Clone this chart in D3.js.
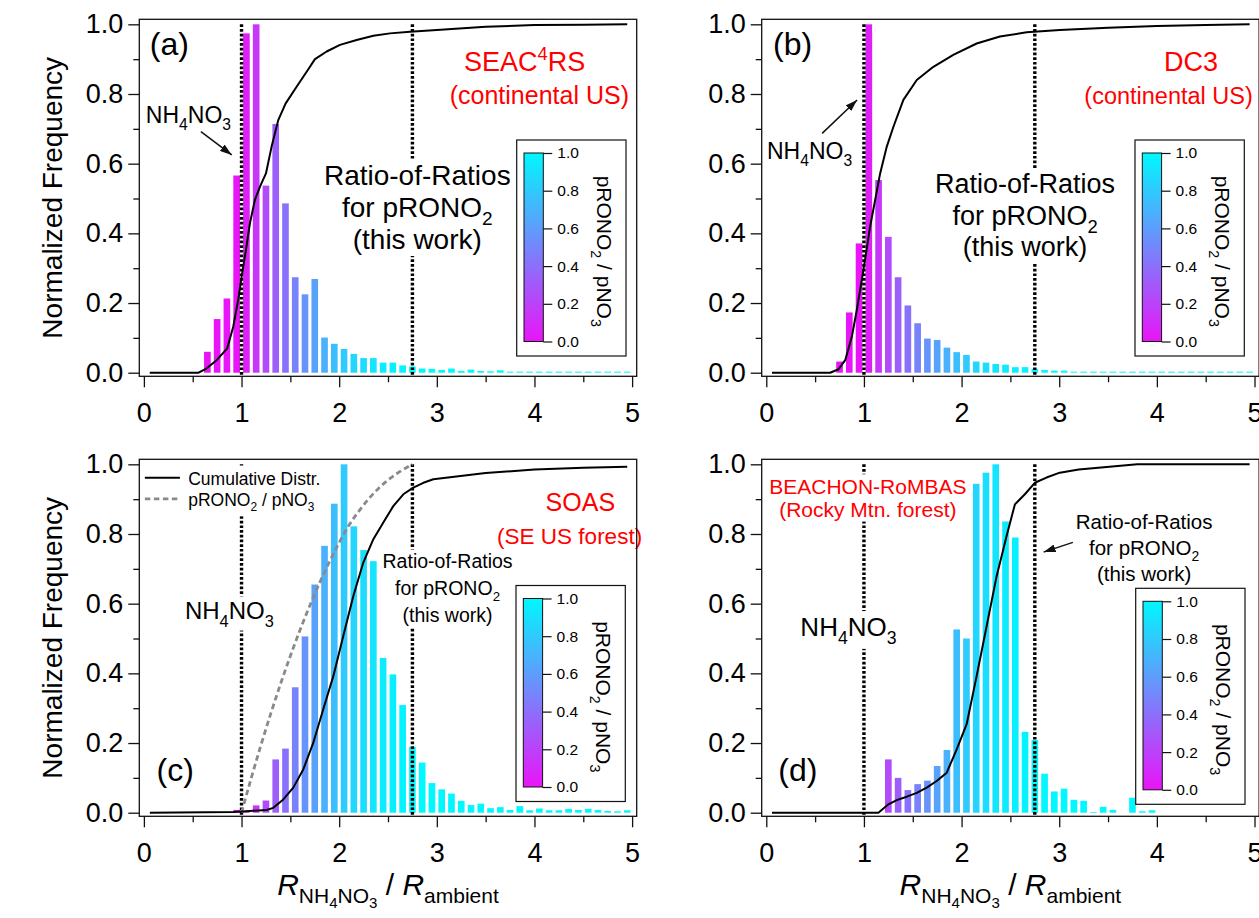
<!DOCTYPE html>
<html>
<head>
<meta charset="utf-8">
<script src="https://cdn.jsdelivr.net/npm/d3@7"></script>
<style>
  html, body { margin: 0; padding: 0; background: #fff; }
  svg { display: block; font-family: "Liberation Sans", Arial, Helvetica, sans-serif; }
</style>
</head>
<body>
<svg id="chart" width="1259" height="918"></svg>
<script>
// ---------------------------------------------------------------------------
// Data
// ---------------------------------------------------------------------------

// Histogram bin centres (bin width 0.1) of R_NH4NO3 / R_ambient
const binCenters = [0.55, 0.65, 0.75, 0.85, 0.95, 1.05, 1.15, 1.25, 1.35, 1.45,
                    1.55, 1.65, 1.75, 1.85, 1.95, 2.05, 2.15, 2.25, 2.35, 2.45,
                    2.55, 2.65, 2.75, 2.85, 2.95, 3.05, 3.15, 3.25, 3.35, 3.45,
                    3.55, 3.65, 3.75, 3.85, 3.95, 4.05, 4.15, 4.25, 4.35, 4.45,
                    4.55, 4.65, 4.75, 4.85, 4.95];

// Normalized frequency per bin for each campaign
const freqSEAC4RS = [0, 0.060, 0.154, 0.213, 0.566, 0.974, 1.000, 0.537, 0.714, 0.486,
                     0.274, 0.225, 0.269, 0.101, 0.083, 0.068, 0.054, 0.042, 0.042, 0.029,
                     0.029, 0.021, 0.018, 0.012, 0.011, 0.008, 0.012, 0.005, 0.009, 0.005,
                     0.004, 0.007, 0.003, 0.003, 0.003, 0.003, 0.003, 0.003, 0.003, 0.003,
                     0.003, 0.003, 0.003, 0.003, 0.003];
const freqDC3     = [0, 0, 0.032, 0.173, 0.371, 1.000, 0.553, 0.390, 0.274, 0.193,
                     0.142, 0.098, 0.094, 0.072, 0.059, 0.051, 0.032, 0.029, 0.025, 0.023,
                     0.016, 0.016, 0.011, 0.008, 0.006, 0.006, 0.003, 0.003, 0.003, 0.003,
                     0.003, 0.003, 0.003, 0.003, 0.003, 0.003, 0.003, 0.003, 0.003, 0.003,
                     0.003, 0.003, 0.003, 0.003, 0.003];
const freqSOAS    = [0, 0, 0, 0, 0.008, 0.004, 0.021, 0.035, 0.153, 0.184,
                     0.360, 0.506, 0.655, 0.766, 0.887, 1.000, 0.822, 0.754, 0.722, 0.444,
                     0.397, 0.309, 0.189, 0.144, 0.085, 0.067, 0.055, 0.034, 0.022, 0.026,
                     0.013, 0.016, 0.008, 0.019, 0.007, 0.012, 0.007, 0.007, 0.011, 0.008,
                     0.011, 0.008, 0.005, 0.004, 0.007];
const freqBEACHON = [0, 0, 0, 0, 0, 0, 0, 0.153, 0.100, 0.065,
                     0.082, 0.092, 0.134, 0.180, 0.526, 0.500, 0.944, 0.976, 1.000, 0.836,
                     0.790, 0.232, 0.209, 0.112, 0.061, 0.069, 0.037, 0.034, 0.002, 0.017,
                     0.008, 0, 0.043, 0.004, 0.007, 0, 0, 0, 0, 0,
                     0, 0, 0, 0, 0];

// Cumulative distributions
const cumXSEAC4RS = [0.06, 0.56, 0.64, 0.745, 0.854, 0.915, 0.966, 1.001, 1.045, 1.086,
                     1.137, 1.189, 1.25, 1.308, 1.376, 1.452, 1.564, 1.667, 1.752, 1.872,
                     2.008, 2.179, 2.35, 2.52, 2.725, 3.0, 3.5, 4.0, 4.5, 4.95];
const cumYSEAC4RS = [0, 0, 0.012, 0.036, 0.070, 0.132, 0.209, 0.276, 0.352, 0.429,
                     0.496, 0.534, 0.572, 0.649, 0.725, 0.773, 0.821, 0.864, 0.900, 0.922,
                     0.941, 0.955, 0.967, 0.974, 0.979, 0.984, 0.993, 0.998, 0.999, 1.0];
const cumXDC3     = [0.058, 0.654, 0.74, 0.808, 0.876, 0.927, 0.978, 1.022, 1.063, 1.115,
                     1.166, 1.234, 1.302, 1.404, 1.541, 1.711, 1.915, 2.154, 2.393, 2.666,
                     3.006, 3.5, 4.0, 4.5, 4.95];
const cumYDC3     = [0, 0, 0.010, 0.036, 0.103, 0.180, 0.266, 0.343, 0.419, 0.496,
                     0.572, 0.649, 0.706, 0.783, 0.840, 0.878, 0.912, 0.945, 0.965, 0.977,
                     0.984, 0.990, 0.995, 0.998, 1.0];
const cumXSOAS    = [0.061, 0.915, 1.086, 1.257, 1.325, 1.428, 1.53, 1.632, 1.735, 1.837,
                     1.94, 2.042, 2.145, 2.247, 2.35, 2.452, 2.554, 2.657, 2.759, 2.862,
                     2.964, 3.5, 4.0, 4.5, 4.95];
const cumYSOAS    = [0, 0.002, 0.005, 0.008, 0.014, 0.038, 0.072, 0.124, 0.201, 0.297,
                     0.392, 0.507, 0.622, 0.718, 0.785, 0.833, 0.880, 0.914, 0.933, 0.947,
                     0.957, 0.975, 0.985, 0.990, 0.993];
const cumXBEACHON = [0.058, 1.148, 1.251, 1.336, 1.438, 1.541, 1.643, 1.745, 1.848, 1.95,
                     2.052, 2.154, 2.257, 2.359, 2.461, 2.546, 2.648, 2.75, 2.87, 3.006,
                     3.2, 3.4, 3.8, 4.95];
const cumYBEACHON = [0, 0, 0.024, 0.036, 0.046, 0.057, 0.072, 0.091, 0.115, 0.182,
                     0.254, 0.392, 0.536, 0.679, 0.794, 0.885, 0.914, 0.947, 0.962, 0.976,
                     0.985, 0.990, 1.0, 1.0];

// pRONO2 / pNO3 fraction versus R_NH4NO3 / R_ambient (also sets bar colours)
const ratioX    = [1.0, 1.1, 1.2, 1.3, 1.4, 1.5, 1.6, 1.7, 1.8, 1.9,
                   2.0, 2.1, 2.2, 2.3, 2.4, 2.5, 2.6, 2.75];
const ratioFrac = [0, 0.100, 0.195, 0.285, 0.370, 0.450, 0.525, 0.595, 0.660, 0.720,
                   0.775, 0.825, 0.865, 0.900, 0.930, 0.955, 0.975, 1.0];

// Reference ratios: pure NH4NO3 and pRONO2 (this work)
const refLines = [1.0, 2.75];

// Tick values
const xTicks = [0, 1, 2, 3, 4, 5];
const xMinorTicks = [0.5, 1.5, 2.5, 3.5, 4.5];
const yTicks = [0, 0.2, 0.4, 0.6, 0.8, 1.0];
const yMinorTicks = [0.1, 0.3, 0.5, 0.7, 0.9];
const cbTicks = [0, 0.2, 0.4, 0.6, 0.8, 1.0];

// ---------------------------------------------------------------------------
// Layout and styling
// ---------------------------------------------------------------------------
const W = 497.4, H = 357;
const xDomain = [-0.047, 5.047];
const yDomain = [-0.0103, 1.0144];
const barWidth = 0.068;
const magenta = '#ea14f8', cyan = '#00f8ff';
const interp = d3.interpolateRgb(magenta, cyan);
const fracScale = d3.scaleLinear().domain(ratioX).range(ratioFrac).clamp(true);
const barColor = v => interp(fracScale(v));
const INK = '#111';
const RED = '#ff0000';

const svg = d3.select('#chart');
const defs = svg.append('defs');

const grad = defs.append('linearGradient').attr('id', 'cbGrad')
  .attr('x1', 0).attr('y1', 1).attr('x2', 0).attr('y2', 0);
d3.range(0, 1.0001, 0.1).forEach(t => {
  grad.append('stop').attr('offset', (t * 100) + '%').attr('stop-color', interp(t));
});

defs.append('marker').attr('id', 'arrowHead')
  .attr('markerUnits', 'userSpaceOnUse')
  .attr('markerWidth', 12).attr('markerHeight', 8)
  .attr('refX', 12).attr('refY', 4).attr('orient', 'auto')
  .append('path').attr('d', 'M0,0 L12,4 L0,8 Z').attr('fill', INK);

// Writes text segments into a <text>; objects with sub/sup become sub/superscripts
function rich(textSel, segs, size) {
  let off = 0;
  segs.forEach(s => {
    const seg = typeof s === 'string' ? { t: s } : s;
    const ts = textSel.append('tspan').text(seg.t);
    let target = 0, fs = seg.size || size;
    if (seg.sub) { target = 0.3 * size; fs = 0.68 * size; }
    if (seg.sup) { target = -0.42 * size; fs = 0.68 * size; }
    ts.attr('font-size', fs);
    if (seg.italic) ts.attr('font-style', 'italic');
    if (target !== off) { ts.attr('dy', target - off); off = target; }
  });
}

// A block of lines; optional white background hides what lies beneath
function textBlock(g, x, y, item) {
  const grp = g.append('g');
  item.lines.forEach((line, i) => {
    const size = item.sizes ? item.sizes[i] : item.size;
    const cx = item.xs ? item.xs[i] : item.x;
    const t = grp.append('text')
      .attr('x', x(cx)).attr('y', y(item.ys[i]))
      .attr('text-anchor', item.anchor || 'middle')
      .attr('font-size', size)
      .attr('fill', item.color || '#000');
    rich(t, line, size);
  });
  if (item.bg) {
    const bb = grp.node().getBBox();
    grp.insert('rect', ':first-child')
      .attr('x', bb.x - 3).attr('y', bb.y - 1)
      .attr('width', bb.width + 6).attr('height', bb.height + 2)
      .attr('fill', '#fff');
  }
}

const NH4NO3 = ['NH', { t: '4', sub: true }, 'NO', { t: '3', sub: true }];
const ratioLines = [['Ratio-of-Ratios'], ['for pRONO', { t: '2', sub: true }], ['(this work)']];

const panels = [
  {
    id: 'a', left: 139.3, top: 19.3, freq: freqSEAC4RS, cumX: cumXSEAC4RS, cumY: cumYSEAC4RS,
    cb: [377.4, 120.7],
    letter: { x: 0.06, y: 0.912 },
    texts: [
      { xs: [3.9, 4.05], ys: [0.866, 0.771], sizes: [27, 25], color: RED,
        lines: [['SEAC', { t: '4', sup: true }, 'RS'], ['(continental US)']] },
      { x: 0.02, ys: [0.716], size: 23, anchor: 'start', lines: [NH4NO3] },
      { x: 2.8, ys: [0.538, 0.447, 0.355], size: 28, bg: true, lines: ratioLines }
    ],
    arrow: [[0.584, 0.692], [0.9, 0.625]]
  },
  {
    id: 'b', left: 761.7, top: 19.3, freq: freqDC3, cumX: cumXDC3, cumY: cumYDC3,
    cb: [373.3, 120.7],
    letter: { x: 0.07, y: 0.912 },
    texts: [
      { xs: [4.35, 4.12], ys: [0.866, 0.771], sizes: [27, 23.5], color: RED,
        lines: [['DC3'], ['(continental US)']] },
      { x: 0.007, ys: [0.613], size: 23, anchor: 'start', lines: [NH4NO3] },
      { x: 2.65, ys: [0.515, 0.425, 0.335], size: 27, bg: true, lines: ratioLines }
    ],
    arrow: [[0.572, 0.687], [0.93, 0.783]]
  },
  {
    id: 'c', left: 139.3, top: 459.3, freq: freqSOAS, cumX: cumXSOAS, cumY: cumYSOAS,
    cb: [376.7, 126.2], showRatio: true, legend: true,
    letter: { x: 0.13, y: 0.091 },
    texts: [
      { xs: [4.47, 4.36], ys: [0.866, 0.772], sizes: [25, 22.5], color: RED,
        lines: [['SOAS'], ['(SE US forest)']] },
      { x: 0.42, ys: [0.555], size: 24, anchor: 'start', bg: true, lines: [NH4NO3] },
      { x: 3.11, ys: [0.701, 0.624, 0.547], size: 19.5, bg: true, lines: ratioLines }
    ]
  },
  {
    id: 'd', left: 761.7, top: 459.3, freq: freqBEACHON, cumX: cumXBEACHON, cumY: cumYBEACHON,
    cb: [374, 129],
    letter: { x: 0.123, y: 0.091 },
    texts: [
      { x: 1.04, ys: [0.914, 0.85], size: 21, color: RED, bg: true,
        lines: [['BEACHON-RoMBAS'], ['(Rocky Mtn. forest)']] },
      { x: 0.349, ys: [0.507], size: 26, anchor: 'start', bg: true, lines: [NH4NO3] },
      { x: 3.87, ys: [0.815, 0.74, 0.665], size: 20.5, bg: true, lines: ratioLines }
    ],
    arrow: [[3.14, 0.776], [2.84, 0.748]]
  }
];

function drawColorbar(g, cx, cy) {
  const cb = g.append('g').attr('transform', `translate(${cx},${cy})`);
  cb.append('rect').attr('width', 109.3).attr('height', 216)
    .attr('fill', '#fff').attr('stroke', INK).attr('stroke-width', 1.2);
  const gTop = 13, gH = 188.5, gX = 7.3, gW = 19.3;
  const cs = d3.scaleLinear().domain([0, 1]).range([gTop + gH, gTop]);
  cb.append('rect').attr('x', gX).attr('y', gTop).attr('width', gW).attr('height', gH)
    .attr('fill', 'url(#cbGrad)').attr('stroke', INK).attr('stroke-width', 1);
  const ax = cb.append('g').attr('transform', `translate(${gX + gW},0)`)
    .call(d3.axisRight(cs).tickValues(cbTicks).tickFormat(d3.format('.1f')).tickSize(9).tickPadding(5));
  ax.select('.domain').remove();
  ax.selectAll('line').attr('stroke', INK).attr('stroke-width', 1.2);
  ax.selectAll('text').attr('font-size', 15.5).attr('fill', '#000')
    .attr('font-family', '"Liberation Sans", Arial, sans-serif');
  const title = cb.append('text')
    .attr('transform', `translate(80.3,${gTop + gH / 2 + 4}) rotate(90)`)
    .attr('text-anchor', 'middle').attr('font-size', 21);
  rich(title, ['pRONO', { t: '2', sub: true }, ' / pNO', { t: '3', sub: true }], 21);
}

function drawPanel(p) {
  const g = svg.append('g').attr('transform', `translate(${p.left},${p.top})`);
  const x = d3.scaleLinear().domain(xDomain).range([0, W]);
  const y = d3.scaleLinear().domain(yDomain).range([H, 0]);

  defs.append('clipPath').attr('id', 'clip-' + p.id)
    .append('rect').attr('width', W).attr('height', H);
  const plot = g.append('g').attr('clip-path', `url(#clip-${p.id})`);
  const notes = g.append('g');

  // histogram bars coloured by the pRONO2 fraction at the bin centre
  const bars = binCenters.map((c, i) => ({ c, v: p.freq[i] })).filter(d => d.v > 0);
  plot.selectAll('rect.bar').data(bars).join('rect')
    .attr('class', 'bar')
    .attr('x', d => x(d.c - barWidth / 2))
    .attr('width', x(barWidth) - x(0))
    .attr('y', d => y(d.v))
    .attr('height', d => y(0) - y(d.v))
    .attr('fill', d => barColor(d.c));

  // reference ratio lines
  plot.selectAll('line.ref').data(refLines).join('line')
    .attr('class', 'ref')
    .attr('x1', d => x(d)).attr('x2', d => x(d))
    .attr('y1', y(1)).attr('y2', H)
    .attr('stroke', '#000').attr('stroke-width', 3.4)
    .attr('stroke-dasharray', '2.7 2');

  // pRONO2 / pNO3 fraction curve
  if (p.showRatio) {
    plot.append('path').datum(d3.zip(ratioX, ratioFrac))
      .attr('d', d3.line().x(d => x(d[0])).y(d => y(d[1])).curve(d3.curveMonotoneX))
      .attr('fill', 'none').attr('stroke', '#8a8a8a').attr('stroke-width', 2.8)
      .attr('stroke-dasharray', '5.5 3.5');
  }

  // cumulative distribution
  plot.append('path').datum(d3.zip(p.cumX, p.cumY))
    .attr('d', d3.line().x(d => x(d[0])).y(d => y(d[1])))
    .attr('fill', 'none').attr('stroke', '#000').attr('stroke-width', 2)
    .attr('stroke-linejoin', 'round');

  // annotations
  p.texts.forEach(t => textBlock(notes, x, y, t));
  if (p.arrow) {
    notes.append('line')
      .attr('x1', x(p.arrow[0][0])).attr('y1', y(p.arrow[0][1]))
      .attr('x2', x(p.arrow[1][0])).attr('y2', y(p.arrow[1][1]))
      .attr('stroke', INK).attr('stroke-width', 1.5)
      .attr('marker-end', 'url(#arrowHead)');
  }
  notes.append('text')
    .attr('x', x(p.letter.x)).attr('y', y(p.letter.y))
    .attr('font-size', 32).text(`(${p.id})`);

  if (p.legend) {
    const lg = notes.append('g');
    const items = [
      { label: ['Cumulative Distr.'], ly: 0.9615, ty: 0.942, stroke: '#000', dash: null, w: 2 },
      { label: ['pRONO', { t: '2', sub: true }, ' / pNO', { t: '3', sub: true }], ly: 0.901, ty: 0.88,
        stroke: '#8a8a8a', dash: '5.5 3.5', w: 2.8 }
    ];
    items.forEach(it => {
      lg.append('line').attr('x1', x(0.01)).attr('x2', x(0.369))
        .attr('y1', y(it.ly)).attr('y2', y(it.ly))
        .attr('stroke', it.stroke).attr('stroke-width', it.w)
        .attr('stroke-dasharray', it.dash);
      const t = lg.append('text').attr('x', x(0.454)).attr('y', y(it.ty)).attr('font-size', 17.5);
      rich(t, it.label, 17.5);
    });
    const bb = lg.node().getBBox();
    lg.insert('rect', ':first-child')
      .attr('x', Math.max(bb.x - 4, 1)).attr('y', bb.y - 3)
      .attr('width', bb.width + 8).attr('height', bb.height + 5)
      .attr('fill', '#fff');
  }

  drawColorbar(g, p.cb[0], p.cb[1]);

  // frame
  g.append('rect').attr('width', W).attr('height', H)
    .attr('fill', 'none').attr('stroke', INK).attr('stroke-width', 1.3);

  // axes
  const styleAxis = a => {
    a.select('.domain').remove();
    a.selectAll('line').attr('stroke', INK).attr('stroke-width', 1.3);
    a.selectAll('text').attr('font-size', 27).attr('fill', '#000')
      .attr('font-family', '"Liberation Sans", Arial, sans-serif');
  };
  g.append('g').attr('transform', `translate(0,${H})`)
    .call(d3.axisBottom(x).tickValues(xTicks).tickFormat(d3.format('d')).tickSize(11).tickPadding(16))
    .call(styleAxis);
  g.append('g').attr('transform', `translate(0,${H})`)
    .call(d3.axisBottom(x).tickValues(xMinorTicks).tickFormat('').tickSize(6))
    .call(styleAxis);
  g.append('g')
    .call(d3.axisLeft(y).tickValues(yTicks).tickFormat(d3.format('.1f')).tickSize(11).tickPadding(5))
    .call(styleAxis);
  g.append('g')
    .call(d3.axisLeft(y).tickValues(yMinorTicks).tickFormat('').tickSize(6))
    .call(styleAxis);
}

panels.forEach(drawPanel);

// axis titles
[19.3, 459.3].forEach(top => {
  svg.append('text')
    .attr('transform', `translate(62,${top + H / 2}) rotate(-90)`)
    .attr('text-anchor', 'middle').attr('font-size', 28)
    .text('Normalized Frequency');
});
[139.3, 761.7].forEach(left => {
  const t = svg.append('text')
    .attr('x', left + W / 2).attr('y', 895)
    .attr('text-anchor', 'middle').attr('font-size', 30);
  const segs = [
    { t: 'R', italic: true },
    { t: 'NH', size: 21 },
    { t: '4', size: 15 },
    { t: 'NO', size: 21 },
    { t: '3', size: 15 },
    { t: ' / ' },
    { t: 'R', italic: true },
    { t: 'ambient', size: 21 }
  ];
  // baseline offsets for the nested subscripts
  const offs = [0, 8, 13, 8, 13, 0, 0, 8];
  let off = 0;
  segs.forEach((s, i) => {
    const ts = t.append('tspan').text(s.t).attr('font-size', s.size || 30);
    if (s.italic) ts.attr('font-style', 'italic');
    if (offs[i] !== off) { ts.attr('dy', offs[i] - off); off = offs[i]; }
  });
});
</script>
</body>
</html>
